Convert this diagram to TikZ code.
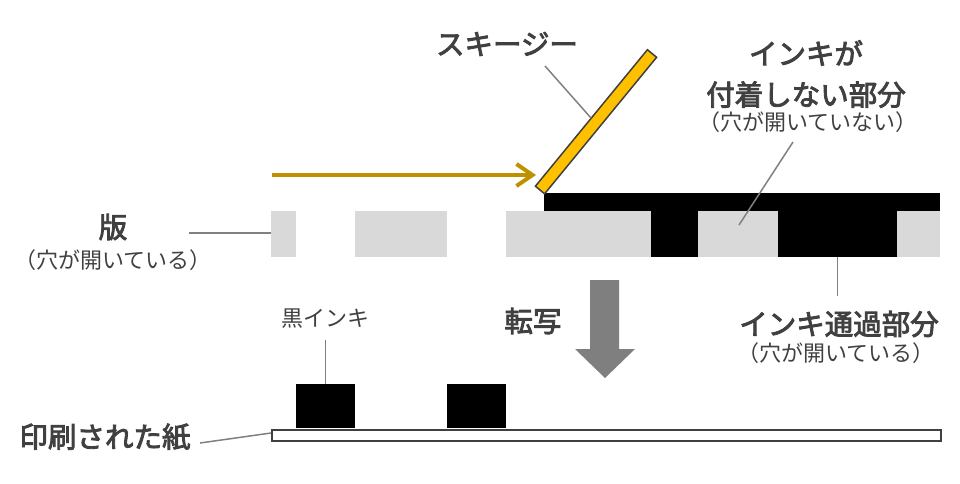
\documentclass[tikz,border=0pt]{standalone}
\usepackage{fontspec}
\setmainfont{Noto Sans CJK JP}
\newfontfamily\medfont{Noto Sans CJK JP}[FakeBold=3]
\usetikzlibrary{arrows.meta}
\definecolor{txt}{HTML}{404040}
\definecolor{lead}{HTML}{808080}
\definecolor{gold}{HTML}{BF9000}
\definecolor{yel}{HTML}{FFC000}
\definecolor{stg}{HTML}{D9D9D9}
\definecolor{darr}{HTML}{7F7F7F}
\tikzset{
  lbl/.style={text=txt, font=\fontsize{28.5}{41}\medfont, align=center, inner sep=0pt},
  sublbl/.style={text=txt, font=\fontsize{22}{24}\selectfont, inner sep=0pt},
  smalllbl/.style={text=txt, font=\fontsize{22}{24}\selectfont, inner sep=0pt},
  leader/.style={draw=lead, line width=1.5pt},
  piece/.style={anchor=north west, inner sep=0pt, outer sep=0pt, minimum height=46pt, draw=none},
  stencilbox/.style={piece, fill=stg},
  inkbox/.style={piece, fill=black},
}
\begin{document}
\begin{tikzpicture}[x=1pt,y=-1pt]
\useasboundingbox (0,0) rectangle (960,483);
% stencil
\node[stencilbox, minimum width=25pt] (s1) at (271,211) {};
\node[stencilbox, minimum width=92pt] (s2) at (355,211) {};
\node[stencilbox, minimum width=145pt] (s3) at (506,211) {};
\node[inkbox, minimum width=47pt] (b1) at (651,211) {};
\node[stencilbox, minimum width=80pt] (s4) at (698,211) {};
\node[inkbox, minimum width=119pt] (b2) at (778,211) {};
\node[stencilbox, minimum width=43pt] (s5) at (897,211) {};
\node[inkbox, minimum width=396pt, minimum height=18pt] (band) at (544,193) {};
% squeegee
\draw[fill=yel, draw=txt, line width=1.5pt, line join=miter]
  (535.4,186.2) -- (544.6,193.8) -- (656.6,57.3) -- (647.4,49.7) -- cycle;
\coordinate (sqedge) at (591,118);
% push arrow
\coordinate (pushstart) at (272,175);
\coordinate (pushend) at (536,175);
\draw[gold, line width=4pt, -{Straight Barb[length=16pt, width=22pt]}] (pushstart) -- (pushend);
% paper and ink
\node[anchor=north west, inner sep=0pt, minimum width=669pt, minimum height=11pt, draw=txt, line width=1.5pt, fill=white] (paper) at (271,429) {};
\node[inkbox, minimum width=59pt, minimum height=44pt] (ink1) at (296,384) {};
\node[inkbox, minimum width=59pt, minimum height=44pt] (ink2) at (447,384) {};
% transfer arrow
\fill[darr] (590,280) -- (619,280) -- (619,349) -- (635,349) -- (605,378) -- (575,349) -- (590,349) -- cycle;
% labels
\node[lbl] (sqlbl) at (507,44) {スキージー};
\node[lbl] (nolbl) at (806,74) {インキが\\付着しない部分};
\node[sublbl] (nosub) at (808,122) {（穴が開いていない）};
\node[lbl] (hanlbl) at (113,227) {版};
\node[sublbl] (hansub) at (113,260) {（穴が開いている）};
\node[lbl] (tenlbl) at (533,321) {転写};
\node[lbl] (passlbl) at (839,324) {インキ通過部分};
\node[sublbl] (passsub) at (836,353) {（穴が開いている）};
\node[smalllbl] (inklbl) at (325,319) {黒インキ};
\node[lbl] (paperlbl) at (105,437) {印刷された紙};
% leaders
\coordinate (sqlead) at (545,66);
\draw[leader] (sqlead) -- (sqedge);
\coordinate (nolead) at (793,142);
\coordinate (noend) at (739,225);
\draw[leader] (nolead) -- (noend);
\coordinate (hanlead) at (189,233);
\draw[leader] (hanlead) -- (s1.west |- hanlead);
\coordinate (passend) at (837.5,296);
\draw[leader] (b2.south) -- (passend);
\coordinate (inklead) at (325.5,340);
\draw[leader] (inklead) -- (ink1.north);
\coordinate (paperlead) at (200,443);
\coordinate (paperend) at (271,433);
\draw[leader] (paperlead) -- (paperend);
\end{tikzpicture}
\end{document}
